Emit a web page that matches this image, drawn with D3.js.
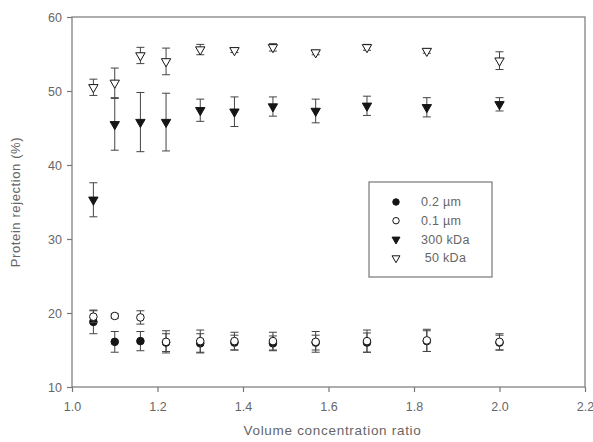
<!DOCTYPE html>
<html>
<head>
<meta charset="utf-8">
<script src="https://cdn.jsdelivr.net/npm/d3@7"></script>
<style>
  body { margin: 0; background: #fff; }
  text { font-family: "Liberation Sans", Arial, sans-serif; fill: #666; }
</style>
</head>
<body>
<svg width="593" height="442"></svg>
<script>
// x values (volume concentration ratio)
const ratios = [1.05, 1.10, 1.16, 1.22, 1.30, 1.38, 1.47, 1.57, 1.69, 1.83, 2.00];

// rejection (%) and error bars per series
const um02 = [18.8, 16.1, 16.2, 16.0, 15.9, 16.0, 15.9, 16.0, 16.0, 16.2, 16.0];
const um02Err = [1.6, 1.4, 1.3, 1.2, 1.3, 1.0, 1.0, 1.0, 1.3, 1.4, 1.0];
const um01 = [19.5, 19.6, 19.4, 16.1, 16.2, 16.2, 16.2, 16.1, 16.2, 16.3, 16.1];
const um01Err = [0.8, 0.3, 0.9, 1.5, 1.5, 1.2, 1.2, 1.4, 1.5, 1.5, 1.1];
const kda300 = [35.3, 45.5, 45.8, 45.8, 47.4, 47.2, 47.9, 47.3, 48.0, 47.8, 48.2];
const kda300Err = [2.3, 3.5, 4.0, 3.9, 1.5, 2.0, 1.3, 1.6, 1.3, 1.3, 0.9];
const kda50 = [50.5, 51.1, 54.8, 54.0, 55.6, 55.5, 55.9, 55.2, 55.9, 55.4, 54.1];
const kda50Err = [1.1, 2.0, 1.1, 1.8, 0.7, 0.3, 0.5, 0.3, 0.4, 0.3, 1.2];

const xTicks = [1.0, 1.2, 1.4, 1.6, 1.8, 2.0, 2.2];
const yTicks = [10, 20, 30, 40, 50, 60];

const series = [
  { name: "0.2 \u00b5m", vals: um02, errs: um02Err, shape: "circle", fill: true },
  { name: "0.1 \u00b5m", vals: um01, errs: um01Err, shape: "circle", fill: false },
  { name: "300 kDa", vals: kda300, errs: kda300Err, shape: "tri", fill: true },
  { name: " 50 kDa", vals: kda50, errs: kda50Err, shape: "tri", fill: false }
];

const svg = d3.select("svg");
const margin = { top: 17, right: 8, bottom: 55, left: 72 };
const W = 593, H = 442;

const x = d3.scaleLinear().domain([1.0, 2.2]).range([margin.left, W - margin.right]);
const y = d3.scaleLinear().domain([10, 60]).range([H - margin.bottom, margin.top]);

const axisColor = "#777";

// frame
svg.append("rect")
  .attr("x", x(1.0)).attr("y", y(60))
  .attr("width", x(2.2) - x(1.0)).attr("height", y(10) - y(60))
  .attr("fill", "none").attr("stroke", axisColor).attr("stroke-width", 1.2);

const xAxis = svg.append("g")
  .attr("transform", `translate(0,${y(10)})`)
  .call(d3.axisBottom(x).tickValues(xTicks).tickFormat(d3.format(".1f")).tickSize(5).tickPadding(10));
const yAxis = svg.append("g")
  .attr("transform", `translate(${x(1.0)},0)`)
  .call(d3.axisLeft(y).tickValues(yTicks).tickSize(5).tickPadding(5));

[xAxis, yAxis].forEach(g => {
  g.select(".domain").remove();
  g.selectAll("line").attr("stroke", axisColor).attr("stroke-width", 1.2);
  g.selectAll("text").attr("fill", "#666").style("font-size", "12.5px");
});

// axis titles
svg.append("text")
  .attr("x", (x(1.0) + x(2.2)) / 2 + 4).attr("y", 435)
  .attr("text-anchor", "middle").style("font-size", "13.5px").style("letter-spacing", "0.7px")
  .text("Volume concentration ratio");
svg.append("text")
  .attr("transform", `translate(20,${(y(10) + y(60)) / 2}) rotate(-90)`)
  .attr("text-anchor", "middle").style("font-size", "13px").style("letter-spacing", "0.6px")
  .text("Protein rejection (%)");

const markColor = "#151515";
const errColor = "#444";

function drawMarker(g, s, scale) {
  const k = scale || 1;
  if (s.shape === "circle") {
    g.append("circle").attr("r", 3.8 * k)
      .attr("fill", s.fill ? markColor : "#fff")
      .attr("stroke", markColor).attr("stroke-width", 1);
  } else {
    g.append("path").attr("d", d3.symbol().type(d3.symbolTriangle).size(38 * k * k))
      .attr("transform", "rotate(180)")
      .attr("fill", s.fill ? markColor : "#fff")
      .attr("stroke", markColor).attr("stroke-width", 1);
  }
}

series.forEach(s => {
  const pts = ratios.map((r, i) => ({ r, v: s.vals[i], e: s.errs[i] }));
  const g = svg.append("g");
  const eb = g.selectAll(".eb").data(pts).join("g").attr("stroke", errColor).attr("stroke-width", 1);
  eb.append("line")
    .attr("x1", d => x(d.r)).attr("x2", d => x(d.r))
    .attr("y1", d => y(d.v - d.e)).attr("y2", d => y(d.v + d.e));
  eb.append("line")
    .attr("x1", d => x(d.r) - 4).attr("x2", d => x(d.r) + 4)
    .attr("y1", d => y(d.v + d.e)).attr("y2", d => y(d.v + d.e));
  eb.append("line")
    .attr("x1", d => x(d.r) - 4).attr("x2", d => x(d.r) + 4)
    .attr("y1", d => y(d.v - d.e)).attr("y2", d => y(d.v - d.e));
  g.selectAll(".m").data(pts).join("g")
    .attr("transform", d => `translate(${x(d.r)},${y(d.v)})`)
    .each(function () { drawMarker(d3.select(this), s); });
});

// legend
const lg = svg.append("g").attr("transform", "translate(369,182)");
lg.append("rect").attr("width", 123).attr("height", 95)
  .attr("fill", "#fff").attr("stroke", axisColor).attr("stroke-width", 1.2);
series.forEach((s, i) => {
  const row = lg.append("g").attr("transform", `translate(0,${20 + i * 18.7})`);
  const m = row.append("g").attr("transform", "translate(27,0)");
  drawMarker(m, s, 0.85);
  row.append("text").attr("x", 52).attr("dy", "0.35em")
    .style("font-size", "12.5px").style("letter-spacing", "0.3px")
    .style("white-space", "pre").attr("xml:space", "preserve")
    .text(s.name);
});
</script>
</body>
</html>
